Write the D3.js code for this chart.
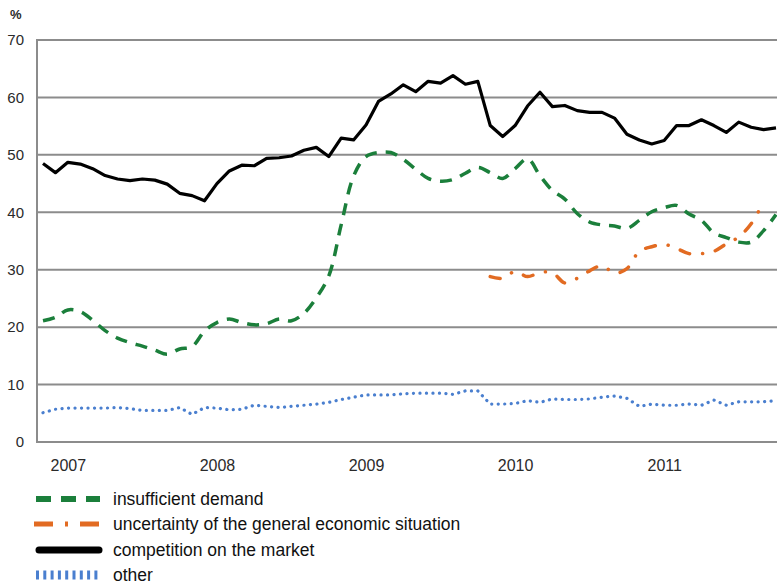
<html>
<head>
    <meta http-equiv="content-type" content="text/html; charset=UTF8">
    <script type="text/javascript" src="https://cdn.jsdelivr.net/npm/d3@7"></script>
    <style>
        body { margin: 0; background: #fff; }
        text { font-family: "Liberation Sans", Arial, sans-serif; }
    </style>
</head>
<body>

<div id="chart"></div>

<script>
    // monthly observations, Nov 2006 .. Oct 2011
    var months = d3.timeMonth.range(new Date(2006, 10, 1), new Date(2011, 10, 1));
    var years = ["2007", "2008", "2009", "2010", "2011"];
    var yTicks = [0, 10, 20, 30, 40, 50, 60, 70];

    var seriesNames = ["insufficient demand", "uncertainty of the general economic situation",
                       "competition on the market", "other"];

    var demand = [21.1, 21.7, 23.0, 22.7, 21.2, 19.4, 18.1, 17.3, 16.7, 16.0, 15.3, 16.2,
                  16.6, 19.3, 20.8, 21.4, 20.8, 20.4, 20.6, 21.4, 21.1, 22.4, 25.1, 28.9,
                  37.8, 46.3, 49.7, 50.4, 50.4, 49.2, 47.5, 45.9, 45.4, 45.7, 46.8, 47.8,
                  46.9, 45.9, 47.6, 49.3, 46.4, 43.8, 42.3, 39.8, 38.3, 37.8, 37.6, 37.2,
                  38.6, 40.1, 40.8, 41.2, 39.7, 38.6, 36.4, 35.6, 34.8, 34.8, 36.8, 39.6];

    var uncertainty = [null, null, null, null, null, null, null, null, null, null, null, null,
                       null, null, null, null, null, null, null, null, null, null, null, null,
                       null, null, null, null, null, null, null, null, null, null, null, null,
                       28.8, 28.5, 29.7, 28.8, 29.5, 29.5, 27.7, 28.5, 29.8, 30.7, 29.4, 30.2,
                       33.2, 34.0, 34.4, 33.7, 32.8, 32.8, 33.2, 34.5, 35.7, 38.0, 41.8, null];

    var competition = [48.5, 46.9, 48.7, 48.4, 47.6, 46.4, 45.8, 45.5, 45.8, 45.6, 44.9, 43.3,
                       42.9, 42.0, 45.0, 47.2, 48.2, 48.1, 49.4, 49.5, 49.8, 50.8, 51.3, 49.7,
                       52.9, 52.6, 55.2, 59.3, 60.6, 62.2, 61.0, 62.8, 62.5, 63.8, 62.3, 62.8,
                       55.1, 53.2, 55.1, 58.5, 60.9, 58.4, 58.6, 57.7, 57.4, 57.4, 56.4, 53.6,
                       52.6, 51.9, 52.5, 55.1, 55.1, 56.1, 55.1, 53.9, 55.7, 54.8, 54.4, 54.7];

    var other = [5.1, 5.7, 5.9, 5.9, 5.9, 5.9, 6.0, 5.8, 5.5, 5.5, 5.5, 6.0,
                 4.8, 6.0, 5.9, 5.6, 5.7, 6.4, 6.2, 6.0, 6.2, 6.4, 6.6, 6.9,
                 7.4, 7.8, 8.2, 8.2, 8.2, 8.4, 8.5, 8.5, 8.5, 8.3, 8.9, 8.9,
                 6.6, 6.6, 6.7, 7.2, 6.9, 7.5, 7.4, 7.4, 7.5, 7.8, 8.0, 7.6,
                 6.2, 6.6, 6.4, 6.4, 6.6, 6.4, 7.3, 6.4, 7.0, 7.0, 7.0, 7.2];

    // view settings (note: "top" is taken by window.top, so prefix everything)
    var width = 777;
    var height = 585;
    var plotLeft = 37, plotRight = 777, plotTop = 40, plotBottom = 442;

    var svg = d3.select("#chart")
        .append("svg")
        .attr("width", width)
        .attr("height", height);

    var x = d3.scalePoint()
        .domain(months.map(function(d) { return +d; }))
        .range([43, 776]);

    var y = d3.scaleLinear()
        .domain([0, 70])
        .range([plotBottom, plotTop]);

    // horizontal grid
    svg.selectAll("line.grid")
        .data(yTicks)
        .enter()
        .append("line")
        .attr("class", "grid")
        .attr("x1", plotLeft)
        .attr("x2", plotRight)
        .attr("y1", function(d) { return y(d); })
        .attr("y2", function(d) { return y(d); })
        .attr("stroke", "#8c8c8c")
        .attr("stroke-width", 2);

    svg.append("line")
        .attr("x1", plotLeft).attr("x2", plotLeft)
        .attr("y1", plotTop - 1).attr("y2", plotBottom + 1)
        .attr("stroke", "#8c8c8c")
        .attr("stroke-width", 2);

    // y axis labels
    var yAxis = d3.axisLeft(y).tickValues(yTicks).tickSize(0).tickPadding(0);
    var gy = svg.append("g")
        .attr("transform", "translate(24,0)")
        .call(yAxis);
    gy.select(".domain").remove();
    gy.selectAll("text")
        .attr("font-size", "15px")
        .attr("font-family", "Liberation Sans, Arial, sans-serif")
        .attr("fill", "#2a2a2a");

    svg.append("text")
        .attr("x", 10)
        .attr("y", 19)
        .attr("font-size", "13px")
        .attr("font-weight", "bold")
        .attr("fill", "#2a2a2a")
        .text("%");

    // x axis: year labels at January
    var janMonths = years.map(function(yr) { return +new Date(+yr, 0, 1); });
    var xAxis = d3.axisBottom(x)
        .tickValues(janMonths)
        .tickSize(0)
        .tickPadding(0)
        .tickFormat(function(d) { return String(new Date(d).getFullYear()); });
    var gx = svg.append("g")
        .attr("transform", "translate(0,460)")
        .call(xAxis);
    gx.select(".domain").remove();
    gx.selectAll("text")
        .attr("font-size", "16px")
        .attr("font-family", "Liberation Sans, Arial, sans-serif")
        .attr("fill", "#2a2a2a");

    // series
    var series = [
        { name: seriesNames[0], values: demand, color: "#1b7f3b", width: 3.5, dash: "12,9", cap: "butt", smooth: true },
        { name: seriesNames[1], values: uncertainty, color: "#e26b22", width: 3.5, dash: "10,13,0.1,13", cap: "round", smooth: true },
        { name: seriesNames[2], values: competition, color: "#000000", width: 3.2, dash: null, cap: "butt", smooth: false },
        { name: seriesNames[3], values: other, color: "#4a7fcf", width: 3.2, dash: "0.1,6.4", cap: "round", smooth: false }
    ];

    series.forEach(function(s) {
        var line = d3.line()
            .defined(function(d) { return d != null; })
            .x(function(d, i) { return x(+months[i]); })
            .y(function(d) { return y(d); })
            .curve(s.smooth ? d3.curveCatmullRom.alpha(0.5) : d3.curveLinear);

        svg.append("path")
            .datum(s.values)
            .attr("fill", "none")
            .attr("stroke", s.color)
            .attr("stroke-width", s.width)
            .attr("stroke-dasharray", s.dash)
            .attr("stroke-linecap", s.cap)
            .attr("stroke-linejoin", "round")
            .attr("d", line);
    });

    // legend
    var legendY = [499, 524, 550, 575];
    var legendSwatch = [
        { dash: "15,10", width: 6, cap: "butt", x1: 36, x2: 100 },
        { dash: "19,12,3,12", width: 5, cap: "butt", x1: 34, x2: 99 },
        { dash: null, width: 7, cap: "round", x1: 39, x2: 99 },
        { dash: "3,4.3", width: 9, cap: "butt", x1: 36, x2: 101 }
    ];

    var legend = svg.selectAll("g.legend")
        .data(series)
        .enter()
        .append("g")
        .attr("class", "legend")
        .attr("transform", function(d, i) { return "translate(0," + legendY[i] + ")"; });

    legend.append("line")
        .attr("x1", function(d, i) { return legendSwatch[i].x1; })
        .attr("x2", function(d, i) { return legendSwatch[i].x2; })
        .attr("y1", 0).attr("y2", 0)
        .attr("stroke", function(d) { return d.color; })
        .attr("stroke-width", function(d, i) { return legendSwatch[i].width; })
        .attr("stroke-dasharray", function(d, i) { return legendSwatch[i].dash; })
        .attr("stroke-linecap", function(d, i) { return legendSwatch[i].cap; });

    legend.append("text")
        .attr("x", 113)
        .attr("y", 6)
        .attr("font-size", "17.5px")
        .attr("fill", "#111")
        .text(function(d) { return d.name; });
</script>

</body>
</html>
